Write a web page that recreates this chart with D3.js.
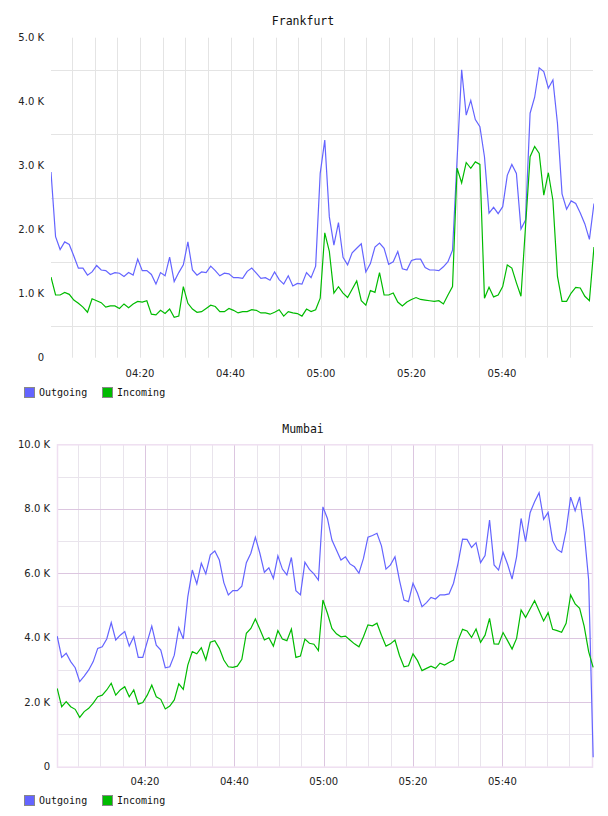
<!DOCTYPE html>
<html>
<head>
<meta charset="utf-8">
<script src="https://cdn.jsdelivr.net/npm/d3@7"></script>
<style>
  body { margin: 0; background: #fff; }
  svg { display: block; }
  .title { font-family: "DejaVu Sans Mono", monospace; font-size: 11.5px; fill: #111; }
  .tick-label { font-family: "DejaVu Sans", sans-serif; font-size: 10px; fill: #222; }
  .legend-label { font-family: "DejaVu Sans Mono", monospace; font-size: 10px; fill: #111; }
</style>
</head>
<body>
<svg id="chart" width="608" height="816"></svg>
<script>
// values in thousands (K), one sample per minute from 04:00
const frankfurtOutgoing = [
  2.90,1.89,1.69,1.81,1.77,1.59,1.40,1.40,1.29,1.34,
  1.44,1.37,1.36,1.30,1.33,1.32,1.27,1.33,1.29,1.54,
  1.36,1.36,1.30,1.15,1.33,1.28,1.57,1.19,1.33,1.45,
  1.81,1.37,1.29,1.34,1.33,1.43,1.36,1.28,1.32,1.31,
  1.25,1.25,1.24,1.35,1.40,1.32,1.24,1.25,1.21,1.34,
  1.22,1.15,1.28,1.12,1.16,1.15,1.33,1.25,1.43,2.88,
  3.40,2.20,1.76,2.11,1.57,1.45,1.64,1.71,1.78,1.34,
  1.47,1.73,1.79,1.71,1.46,1.50,1.66,1.39,1.37,1.52,
  1.54,1.54,1.41,1.37,1.37,1.36,1.42,1.50,1.68,3.10,
  4.50,3.79,4.02,3.72,3.61,3.14,2.26,2.35,2.25,2.36,
  2.85,3.02,2.88,2.01,2.15,3.82,4.07,4.53,4.47,4.21,
  4.34,3.66,2.56,2.32,2.45,2.41,2.26,2.09,1.85,2.41
];
const frankfurtIncoming = [
  1.26,0.98,0.98,1.02,0.99,0.90,0.85,0.79,0.71,0.92,
  0.89,0.86,0.79,0.81,0.81,0.77,0.84,0.78,0.84,0.88,
  0.87,0.89,0.68,0.67,0.74,0.69,0.76,0.63,0.65,1.11,
  0.85,0.76,0.71,0.72,0.77,0.82,0.80,0.72,0.72,0.77,
  0.74,0.70,0.72,0.72,0.75,0.74,0.70,0.70,0.68,0.71,
  0.75,0.65,0.72,0.70,0.69,0.65,0.76,0.72,0.75,0.93,
  1.95,1.66,1.01,1.11,1.01,0.94,1.07,1.20,0.89,0.82,
  1.05,1.02,1.33,0.98,0.98,1.01,0.87,0.81,0.87,0.91,
  0.94,0.91,0.90,0.89,0.88,0.89,0.84,0.98,1.11,2.96,
  2.73,3.05,2.96,3.06,3.02,0.93,1.10,0.95,0.98,1.11,
  1.45,1.40,1.17,0.96,2.05,3.14,3.30,3.19,2.54,2.89,
  2.46,1.27,0.88,0.88,1.01,1.10,1.09,0.96,0.89,1.73
];
const mumbaiOutgoing = [
  4.05,3.39,3.52,3.26,3.07,2.64,2.81,3.00,3.26,3.67,
  3.72,3.96,4.47,3.93,4.08,4.19,3.74,4.03,3.39,3.39,
  3.88,4.36,3.77,3.62,3.07,3.10,3.46,4.31,3.96,5.27,
  6.10,5.67,6.31,5.98,6.57,6.69,6.41,5.71,5.33,5.46,
  5.46,5.60,6.33,6.62,7.12,6.62,6.03,6.17,5.84,6.54,
  6.13,5.95,6.49,5.46,5.33,6.34,6.12,5.98,5.79,8.06,
  7.70,7.03,6.72,6.41,6.51,6.29,6.20,6.00,6.46,7.12,
  7.17,7.24,6.85,6.13,6.26,6.51,5.78,5.17,5.12,5.69,
  5.38,4.96,5.09,5.25,5.20,5.33,5.33,5.36,5.69,6.31,
  7.06,7.05,6.80,6.95,6.33,6.55,7.65,6.26,6.10,6.65,
  6.28,5.82,6.51,7.70,6.98,7.88,8.22,8.50,7.67,7.89,
  7.01,6.74,6.65,7.32,8.36,7.94,8.37,7.29,5.79,0.29
];
const mumbaiIncoming = [
  2.43,1.86,2.02,1.86,1.78,1.53,1.71,1.81,1.97,2.17,
  2.22,2.38,2.59,2.22,2.38,2.48,2.17,2.38,1.94,1.99,
  2.22,2.53,2.17,2.09,1.79,1.88,2.07,2.57,2.40,3.15,
  3.57,3.50,3.69,3.31,3.86,3.91,3.67,3.31,3.10,3.08,
  3.12,3.33,4.14,4.29,4.58,4.26,3.93,4.00,3.74,4.22,
  3.96,3.91,4.27,3.39,3.43,3.96,3.83,3.80,3.60,5.17,
  4.76,4.29,4.12,4.03,4.05,3.93,3.81,3.72,4.03,4.40,
  4.37,4.45,4.08,3.74,3.81,3.93,3.45,3.10,3.13,3.50,
  3.29,2.98,3.05,3.12,3.05,3.21,3.15,3.23,3.31,3.91,
  4.26,4.21,4.01,4.27,3.86,4.08,4.60,3.81,3.80,4.16,
  3.91,3.65,3.98,4.86,4.63,4.89,5.15,4.84,4.52,4.78,
  4.26,4.22,4.17,4.45,5.33,5.05,4.91,4.36,3.57,3.08
];

const seriesNames = ["Outgoing", "Incoming"];
const seriesColors = ["#6464ff", "#00bb00"];
const frankfurtYLabels = [0, 1, 2, 3, 4, 5];
const frankfurtYGrid = [0.5, 1.5, 2.5, 3.5, 4.5];
const mumbaiYLabels = [0, 2, 4, 6, 8, 10];
const mumbaiYMinor = [1, 3, 5, 7, 9];
const xTickLabels = ["04:20", "04:40", "05:00", "05:20", "05:40"];

const parseTime = d3.timeParse("%H:%M:%S");
const tStart = parseTime("04:00:00");
const tEnd = parseTime("06:00:00");
const firstSample = parseTime("04:00:20");
const stepMs = 60500;

function toPoints(values) {
  return values.map((v, i) => ({ t: new Date(+firstSample + i * stepMs), v }));
}

const svg = d3.select("#chart");

function drawChart(cfg) {
  const g = svg.append("g");
  const x = d3.scaleTime().domain([tStart, tEnd]).range([cfg.x0, cfg.x1]);
  const y = d3.scaleLinear().domain([0, cfg.yMax]).range([cfg.yBottom, cfg.yTop]);
  const left = cfg.plotLeft, right = cfg.plotRight;

  // title
  g.append("text")
    .attr("class", "title")
    .attr("x", 303)
    .attr("y", cfg.titleY)
    .attr("text-anchor", "middle")
    .text(cfg.title);

  // vertical gridlines every 5 minutes
  const fiveMin = d3.timeMinute.every(5).range(new Date(+tStart + 1), tEnd);
  g.append("g").selectAll("line")
    .data(fiveMin)
    .join("line")
      .attr("x1", d => Math.round(x(d)) + 0.5)
      .attr("x2", d => Math.round(x(d)) + 0.5)
      .attr("y1", cfg.yTop)
      .attr("y2", cfg.yBottom)
      .attr("stroke", d => (cfg.majorColor && d.getMinutes() % 20 === 0) ? cfg.majorColor : cfg.gridColor);

  // horizontal gridlines
  g.append("g").selectAll("line")
    .data(cfg.yGrid)
    .join("line")
      .attr("x1", left).attr("x2", right)
      .attr("y1", d => Math.round(y(d)) + 0.5)
      .attr("y2", d => Math.round(y(d)) + 0.5)
      .attr("stroke", cfg.gridColor);

  if (cfg.yMajor) {
    g.append("g").selectAll("line")
      .data(cfg.yMajor)
      .join("line")
        .attr("x1", left).attr("x2", right)
        .attr("y1", d => Math.round(y(d)) + 0.5)
        .attr("y2", d => Math.round(y(d)) + 0.5)
        .attr("stroke", cfg.majorColor);
  }

  if (cfg.frameColor) {
    g.append("rect")
      .attr("x", left + 0.5).attr("y", cfg.yTop + 0.5)
      .attr("width", right - left - 1).attr("height", cfg.yBottom - cfg.yTop)
      .attr("fill", "none")
      .attr("stroke", cfg.frameColor)
      .attr("stroke-width", 1.5);
  }

  // y labels
  g.append("g").selectAll("text")
    .data(cfg.yLabels)
    .join("text")
      .attr("class", "tick-label")
      .attr("x", left - 7)
      .attr("y", d => y(d) + 3.6)
      .attr("text-anchor", "end")
      .text(d => d === 0 ? "0" : d.toFixed(1) + " K");

  // x labels
  g.append("g").selectAll("text")
    .data(xTickLabels)
    .join("text")
      .attr("class", "tick-label")
      .attr("x", d => x(parseTime(d + ":00")))
      .attr("y", cfg.xLabelY)
      .attr("text-anchor", "middle")
      .text(d => d);

  // clip to plot
  const clipId = "clip-" + cfg.title;
  svg.append("clipPath").attr("id", clipId)
    .append("rect")
      .attr("x", left).attr("y", cfg.yTop - 2)
      .attr("width", right - left + 1).attr("height", cfg.yBottom - cfg.yTop + 4);

  const line = d3.line().x(d => x(d.t)).y(d => y(d.v));
  cfg.series.forEach((values, i) => {
    g.append("path")
      .datum(toPoints(values))
      .attr("clip-path", `url(#${clipId})`)
      .attr("fill", "none")
      .attr("stroke", seriesColors[i])
      .attr("stroke-width", 1.2)
      .attr("stroke-linejoin", "miter")
      .attr("d", line);
  });

  // legend
  const legendX = [24, 102];
  const lg = g.append("g").selectAll("g")
    .data(seriesNames)
    .join("g")
      .attr("transform", (d, i) => `translate(${legendX[i]},${cfg.legendY})`);
  lg.append("rect")
    .attr("x", 0.5).attr("y", 0.5)
    .attr("width", 10).attr("height", 10)
    .attr("fill", (d, i) => seriesColors[i])
    .attr("stroke", "#888");
  lg.append("text")
    .attr("class", "legend-label")
    .attr("x", 15)
    .attr("y", 9)
    .text(d => d);
}

drawChart({
  title: "Frankfurt",
  titleY: 25,
  x0: 49.5, x1: 592.5,
  plotLeft: 51, plotRight: 593,
  yTop: 37.7, yBottom: 357.7, yMax: 5,
  yLabels: frankfurtYLabels,
  yGrid: frankfurtYGrid,
  gridColor: "#e4e4e4",
  xLabelY: 377,
  legendY: 387,
  series: [frankfurtOutgoing, frankfurtIncoming]
});

drawChart({
  title: "Mumbai",
  titleY: 433,
  x0: 55.7, x1: 591.7,
  plotLeft: 57, plotRight: 593,
  yTop: 444.3, yBottom: 766.7, yMax: 10,
  yLabels: mumbaiYLabels,
  yGrid: mumbaiYMinor,
  yMajor: [2, 4, 6, 8],
  gridColor: "#e9e4ec",
  majorColor: "#dcc6e0",
  frameColor: "#efdff1",
  xLabelY: 785,
  legendY: 795,
  series: [mumbaiOutgoing, mumbaiIncoming]
});
</script>
</body>
</html>
